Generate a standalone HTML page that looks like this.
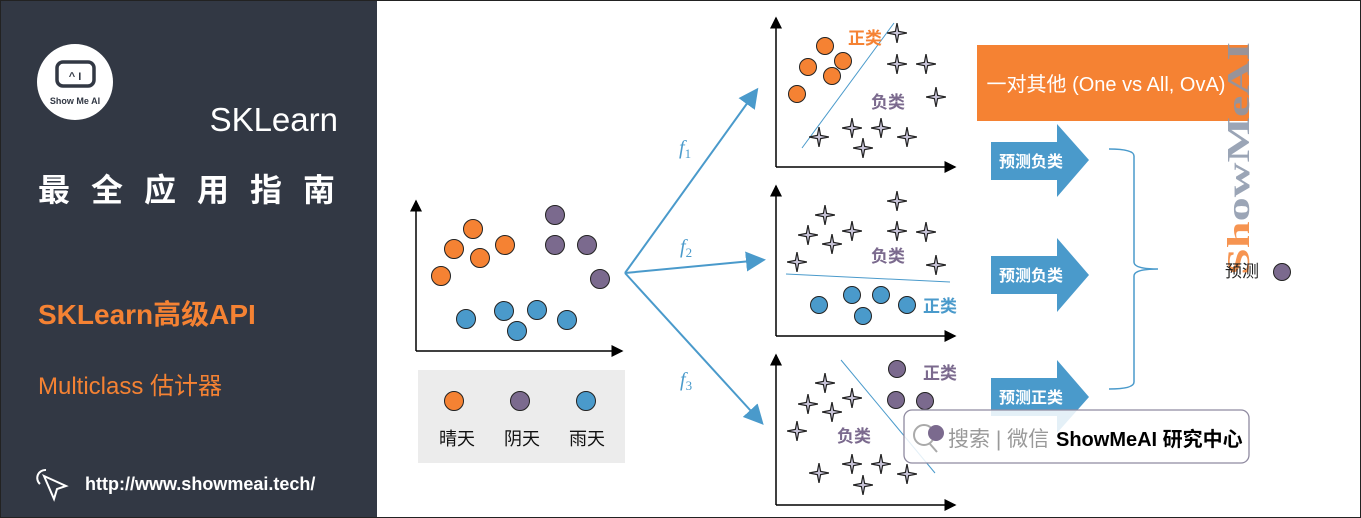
<!DOCTYPE html>
<html><head><meta charset="utf-8"><style>
html,body{margin:0;padding:0;background:#fff;}
svg{display:block;font-family:"Liberation Sans","Noto Sans CJK SC",sans-serif;}
</style></head><body>
<svg width="1361" height="518" viewBox="0 0 1361 518">
<defs>
<marker id="ah" markerWidth="8" markerHeight="8" refX="7" refY="4" orient="auto"><path d="M0,0 L8,4 L0,8 z" fill="#000"/></marker>
<marker id="bh" markerWidth="10" markerHeight="10" refX="8" refY="5" orient="auto"><path d="M0,0 L10,5 L0,10 z" fill="#4a9acb"/></marker>
<symbol id="star" viewBox="-10 -10 20 20"><path d="M0,-10 L1.6,-1.6 L10,0 L1.6,1.6 L0,10 L-1.6,1.6 L-10,0 L-1.6,-1.6 z" fill="#c8c4d8" stroke="#222" stroke-width="1.2"/></symbol>
</defs>
<rect x="0" y="0" width="1361" height="518" fill="#fff"/>
<g>
<rect x="0" y="0" width="377" height="518" fill="#323844"/>
<circle cx="75" cy="82" r="38" fill="#fff"/>
<rect x="57" y="62" width="37" height="24" rx="6" fill="none" stroke="#323844" stroke-width="3.5"/>
<text x="75" y="80" font-size="11" font-weight="bold" text-anchor="middle" fill="#323844">^ I</text>
<text x="75" y="104" font-size="9" font-weight="bold" text-anchor="middle" fill="#323844">Show Me AI</text>
<text x="338" y="131" font-size="33" fill="#fff" text-anchor="end">SKLearn</text>
<text x="38" y="201" font-size="32" font-weight="bold" fill="#fff" letter-spacing="21">最全应用指南</text>
<text x="38" y="324" font-size="28" font-weight="bold" fill="#f58233">SKLearn高级API</text>
<text x="38" y="394" font-size="24" fill="#f58233">Multiclass 估计器</text>
<path d="M44,476 L66,486 L57,489 L54,499 z" fill="none" stroke="#fff" stroke-width="2"/>
<path d="M46,470 A8,8 0 0 0 40,484" fill="none" stroke="#fff" stroke-width="2"/>
<text x="85" y="490" font-size="18" font-weight="bold" fill="#fff">http://www.showmeai.tech/</text>
</g>
<g>
<line x1="416" y1="351" x2="416" y2="201" stroke="#000" stroke-width="1.5" marker-end="url(#ah)"/>
<line x1="416" y1="351" x2="622" y2="351" stroke="#000" stroke-width="1.5" marker-end="url(#ah)"/>
<g stroke="#222" stroke-width="1">
<circle cx="473" cy="229" r="9.5" fill="#f58233"/><circle cx="454" cy="249" r="9.5" fill="#f58233"/><circle cx="480" cy="258" r="9.5" fill="#f58233"/><circle cx="505" cy="245" r="9.5" fill="#f58233"/><circle cx="441" cy="276" r="9.5" fill="#f58233"/>
<circle cx="555" cy="215" r="9.5" fill="#7b6a8e"/><circle cx="555" cy="245" r="9.5" fill="#7b6a8e"/><circle cx="587" cy="245" r="9.5" fill="#7b6a8e"/><circle cx="600" cy="279" r="9.5" fill="#7b6a8e"/>
<circle cx="466" cy="319" r="9.5" fill="#4a9acb"/><circle cx="504" cy="311" r="9.5" fill="#4a9acb"/><circle cx="537" cy="310" r="9.5" fill="#4a9acb"/><circle cx="567" cy="320" r="9.5" fill="#4a9acb"/><circle cx="517" cy="331" r="9.5" fill="#4a9acb"/>
</g>
</g>
<g>
<rect x="418" y="370" width="207" height="93" fill="#ececec"/>
<g stroke="#222" stroke-width="1">
<circle cx="454" cy="401" r="9.5" fill="#f58233"/><circle cx="520" cy="401" r="9.5" fill="#7b6a8e"/><circle cx="586" cy="401" r="9.5" fill="#4a9acb"/>
</g>
<g font-size="18" text-anchor="middle" fill="#111">
<text x="457" y="445">晴天</text>
<text x="522" y="445">阴天</text>
<text x="587" y="445">雨天</text>
</g>
</g>
<g stroke="#4a9acb" stroke-width="2">
<line x1="625" y1="273" x2="756" y2="91" marker-end="url(#bh)"/>
<line x1="625" y1="273" x2="762" y2="260" marker-end="url(#bh)"/>
<line x1="625" y1="273" x2="761" y2="422" marker-end="url(#bh)"/>
</g>
<g font-family="Liberation Serif,serif" font-style="italic" fill="#4a9acb" font-size="20">
<text x="679" y="154">f<tspan font-size="13" font-style="normal" dy="4">1</tspan></text>
<text x="680" y="253">f<tspan font-size="13" font-style="normal" dy="4">2</tspan></text>
<text x="680" y="386">f<tspan font-size="13" font-style="normal" dy="4">3</tspan></text>
</g>
<g>
<line x1="776" y1="167" x2="776" y2="18" stroke="#000" stroke-width="1.5" marker-end="url(#ah)"/>
<line x1="776" y1="167" x2="955" y2="167" stroke="#000" stroke-width="1.5" marker-end="url(#ah)"/>
<line x1="802" y1="148" x2="894" y2="23" stroke="#4a9acb" stroke-width="1"/>
<g stroke="#222" stroke-width="1" fill="#f58233"><circle cx="825" cy="46" r="8.5"/><circle cx="808" cy="67" r="8.5"/><circle cx="843" cy="61" r="8.5"/><circle cx="832" cy="76" r="8.5"/><circle cx="797" cy="94" r="8.5"/></g>
<g><use href="#star" x="887" y="23" width="20" height="20"/><use href="#star" x="887" y="54" width="20" height="20"/><use href="#star" x="916" y="54" width="20" height="20"/><use href="#star" x="926" y="87" width="20" height="20"/><use href="#star" x="809" y="127" width="20" height="20"/><use href="#star" x="842" y="118" width="20" height="20"/><use href="#star" x="871" y="118" width="20" height="20"/><use href="#star" x="897" y="127" width="20" height="20"/><use href="#star" x="853" y="138" width="20" height="20"/></g>
<text x="848" y="44" font-size="17" font-weight="bold" fill="#f58233">正类</text>
<text x="871" y="108" font-size="17" font-weight="bold" fill="#7b6a8e">负类</text>
</g>
<g>
<line x1="776" y1="336" x2="776" y2="186" stroke="#000" stroke-width="1.5" marker-end="url(#ah)"/>
<line x1="776" y1="336" x2="955" y2="336" stroke="#000" stroke-width="1.5" marker-end="url(#ah)"/>
<line x1="786" y1="274" x2="950" y2="282" stroke="#4a9acb" stroke-width="1"/>
<g><use href="#star" x="887" y="191" width="20" height="20"/><use href="#star" x="815" y="205" width="20" height="20"/><use href="#star" x="798" y="225" width="20" height="20"/><use href="#star" x="842" y="221" width="20" height="20"/><use href="#star" x="822" y="234" width="20" height="20"/><use href="#star" x="887" y="221" width="20" height="20"/><use href="#star" x="916" y="222" width="20" height="20"/><use href="#star" x="787" y="252" width="20" height="20"/><use href="#star" x="926" y="255" width="20" height="20"/></g>
<g stroke="#222" stroke-width="1" fill="#4a9acb"><circle cx="819" cy="305" r="8.5"/><circle cx="852" cy="295" r="8.5"/><circle cx="881" cy="295" r="8.5"/><circle cx="907" cy="305" r="8.5"/><circle cx="863" cy="316" r="8.5"/></g>
<text x="871" y="262" font-size="17" font-weight="bold" fill="#7b6a8e">负类</text>
<text x="923" y="312" font-size="17" font-weight="bold" fill="#4a9acb">正类</text>
</g>
<g>
<line x1="776" y1="505" x2="776" y2="355" stroke="#000" stroke-width="1.5" marker-end="url(#ah)"/>
<line x1="776" y1="505" x2="955" y2="505" stroke="#000" stroke-width="1.5" marker-end="url(#ah)"/>
<line x1="841" y1="360" x2="935" y2="473" stroke="#4a9acb" stroke-width="1"/>
<g stroke="#222" stroke-width="1" fill="#7b6a8e"><circle cx="897" cy="369" r="8.5"/><circle cx="896" cy="400" r="8.5"/><circle cx="925" cy="401" r="8.5"/></g>
<g><use href="#star" x="815" y="373" width="20" height="20"/><use href="#star" x="798" y="394" width="20" height="20"/><use href="#star" x="842" y="388" width="20" height="20"/><use href="#star" x="822" y="402" width="20" height="20"/><use href="#star" x="787" y="421" width="20" height="20"/><use href="#star" x="809" y="463" width="20" height="20"/><use href="#star" x="842" y="454" width="20" height="20"/><use href="#star" x="871" y="454" width="20" height="20"/><use href="#star" x="897" y="464" width="20" height="20"/><use href="#star" x="853" y="475" width="20" height="20"/></g>
<text x="923" y="379" font-size="17" font-weight="bold" fill="#7b6a8e">正类</text>
<text x="837" y="442" font-size="17" font-weight="bold" fill="#7b6a8e">负类</text>
</g>
<rect x="977" y="45" width="272" height="76" fill="#f58233"/>
<text x="1106" y="91" font-size="20" fill="#fff" text-anchor="middle">一对其他 (One vs All, OvA)</text>
<g fill="#4a9acb">
<path d="M991,142 H1057 V124 L1089,160 L1057,197 V180 H991 z"/>
<path d="M991,256 H1057 V238 L1089,275 L1057,312 V294 H991 z"/>
<path d="M991,378 H1057 V360 L1089,397 L1057,433 V416 H991 z"/>
</g>
<g font-size="16" font-weight="bold" fill="#fff">
<text x="999" y="167">预测负类</text><text x="999" y="281">预测负类</text><text x="999" y="403">预测正类</text>
</g>
<path d="M1109,149 Q1134,149 1134,156 V262 Q1134,269 1158,269 Q1134,269 1134,276 V382 Q1134,389 1109,389" fill="none" stroke="#4a9acb" stroke-width="1.5"/>
<text transform="translate(1249,275) rotate(-90)" font-family="Liberation Serif,serif" font-weight="bold" font-size="32" textLength="233" lengthAdjust="spacingAndGlyphs" fill="#8a96aa" opacity="0.85"><tspan fill="#f58233">Sh</tspan>owMeAI</text>
<text x="1225" y="277" font-size="17" fill="#222">预测</text>
<circle cx="1282" cy="272" r="8.5" fill="#7b6a8e" stroke="#222" stroke-width="1"/>
<g>
<rect x="904" y="410" width="345" height="53" rx="8" fill="#fff" fill-opacity="0.85" stroke="#8f8aa0" stroke-width="1.3"/>
<circle cx="924" cy="435" r="10" fill="none" stroke="#aaa" stroke-width="2"/>
<circle cx="936" cy="433" r="8" fill="#7b6a8e"/>
<line x1="930" y1="444" x2="937" y2="452" stroke="#aaa" stroke-width="2"/>
<text x="948" y="446" font-size="21" fill="#999">搜索 | 微信</text>
<text x="1056" y="446" font-size="20" font-weight="bold" fill="#000">ShowMeAI 研究中心</text>
</g>
<rect x="0.5" y="0.5" width="1360" height="517" fill="none" stroke="#222" stroke-width="1"/>
</svg>
</body></html>
